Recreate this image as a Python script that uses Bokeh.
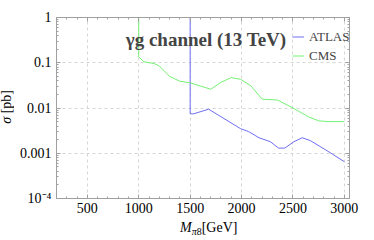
import math
from bokeh.plotting import figure
from bokeh.layouts import row, column
from bokeh.models import (Range1d, FixedTicker, LinearAxis, LogAxis, Label, Div,
                          Legend, LegendItem, CustomJSTickFormatter)
from bokeh.embed import file_html
from bokeh.resources import INLINE

# ---- data ----
atlas_x = [1500, 1500, 1530, 1680, 1990, 2070, 2170, 2280, 2360, 2420, 2510, 2590, 2670, 2850, 3000]
atlas_y = [1, 0.0075, 0.0074, 0.0094, 0.0035, 0.0030, 0.0022, 0.0018, 0.0013, 0.0013, 0.0018, 0.0022, 0.0019, 0.00107, 0.00065]

cms_x = [1000, 1000, 1050, 1150, 1200, 1300, 1400, 1500, 1700, 1800, 1900, 1990, 2090, 2200, 2350, 2500, 2650, 2750, 2850, 3000]
cms_y = [1, 0.135, 0.105, 0.096, 0.085, 0.050, 0.039, 0.036, 0.026, 0.037, 0.047, 0.043, 0.031, 0.0157, 0.015, 0.010, 0.0064, 0.0052, 0.005, 0.005]

x_ticks = [500, 1000, 1500, 2000, 2500, 3000]
x_minor = list(range(300, 3001, 100))
y_ticks = [1e-4, 1e-3, 1e-2, 1e-1, 1.0]
y_tick_labels = ["10\u207b\u2074", "0.001", "0.01", "0.1", "1"]
y_minor = [m * d for d in [1e-4, 1e-3, 1e-2, 1e-1] for m in range(2, 10)]

title_text = "\u03b3g channel (13 TeV)"
series_names = ["ATLAS", "CMS"]
colors = ["#6e6ef2", "#74f074"]

FONT = "Liberation Serif"
GRAY = "#a0a0a0"

p = figure(width=350, height=220, x_range=Range1d(200, 3050), y_range=Range1d(1e-4, 1),
           y_axis_type="log", output_backend="svg", toolbar_location=None,
           min_border_left=42, min_border_right=15, min_border_top=17, min_border_bottom=22,
           margin=0)
p.outline_line_color = GRAY
p.background_fill_color = "white"

xt = FixedTicker(ticks=x_ticks, minor_ticks=x_minor)
yt = FixedTicker(ticks=y_ticks, minor_ticks=y_minor)

p.xaxis.ticker = xt
p.yaxis.ticker = yt
p.yaxis.major_label_overrides = dict(zip(y_ticks, y_tick_labels))

for ax in [p.xaxis[0], p.yaxis[0]]:
    ax.axis_line_color = GRAY
    ax.major_tick_line_color = GRAY
    ax.minor_tick_line_color = GRAY
    ax.major_tick_in = 4
    ax.major_tick_out = 0
    ax.minor_tick_in = 2
    ax.minor_tick_out = 0
    ax.major_label_text_font = FONT
    ax.major_label_text_font_size = "14px"
    ax.major_label_text_color = "black"
p.xaxis.major_label_standoff = 4
p.yaxis.major_label_standoff = 5

# frame ticks on top and right (no labels)
top = LinearAxis(ticker=xt, formatter=CustomJSTickFormatter(code="return '';"))
right = LogAxis(ticker=yt, formatter=CustomJSTickFormatter(code="return '';"))
for ax in [top, right]:
    ax.axis_line_color = GRAY
    ax.major_tick_line_color = GRAY
    ax.minor_tick_line_color = GRAY
    ax.major_tick_in = 4
    ax.major_tick_out = 0
    ax.minor_tick_in = 2
    ax.minor_tick_out = 0
    ax.major_label_standoff = 0
p.add_layout(top, "above")
p.add_layout(right, "right")

for g in [p.xgrid[0], p.ygrid[0]]:
    g.grid_line_color = "#d6d6d6"
    g.grid_line_dash = "3 3"
p.xgrid.ticker = xt
p.ygrid.ticker = yt

r_atlas = p.line(atlas_x, atlas_y, line_color=colors[0], line_width=1)
r_cms = p.line(cms_x, cms_y, line_color=colors[1], line_width=1)

legend = Legend(items=[LegendItem(label=series_names[0], renderers=[r_atlas]),
                       LegendItem(label=series_names[1], renderers=[r_cms])],
                location=(236, 133), glyph_width=12, glyph_height=19, label_height=19,
                label_standoff=5, spacing=0, padding=0, margin=0,
                border_line_alpha=0, background_fill_alpha=0,
                label_text_font=FONT, label_text_font_size="13px")
p.add_layout(legend)

def ylog(py):
    return 10 ** (-(py - 19) / 45.25)

p.add_layout(Label(x=874, y=ylog(40.5), text=title_text, text_font=FONT,
                   text_font_size="19px", text_font_style="bold", text_baseline="alphabetic"))

SERIF = "font-family:'Liberation Serif',serif;color:black;white-space:nowrap;"

ylab = Div(width=14, height=220, margin=0, text=(
    '<div style="height:214px;width:14px;display:flex;align-items:center;justify-content:center;">'
    '<div style="writing-mode:vertical-rl;transform:rotate(180deg);font-size:14px;' + SERIF + '">'
    '<i>\u03c3</i> [pb]</div></div>'))

xlab = Div(width=364, height=16, margin=0, text=(
    '<div style="font-size:14px;line-height:16px;margin-top:-2px;padding-left:180px;' + SERIF + '">'
    '<i>M</i><span style="font-size:10px;position:relative;top:3px"><i>\u03c0</i>8</span>[GeV]</div>'))

layout = column(row(ylab, p, spacing=0), xlab, spacing=0)

open("out.html", "w").write(file_html(layout, INLINE))
